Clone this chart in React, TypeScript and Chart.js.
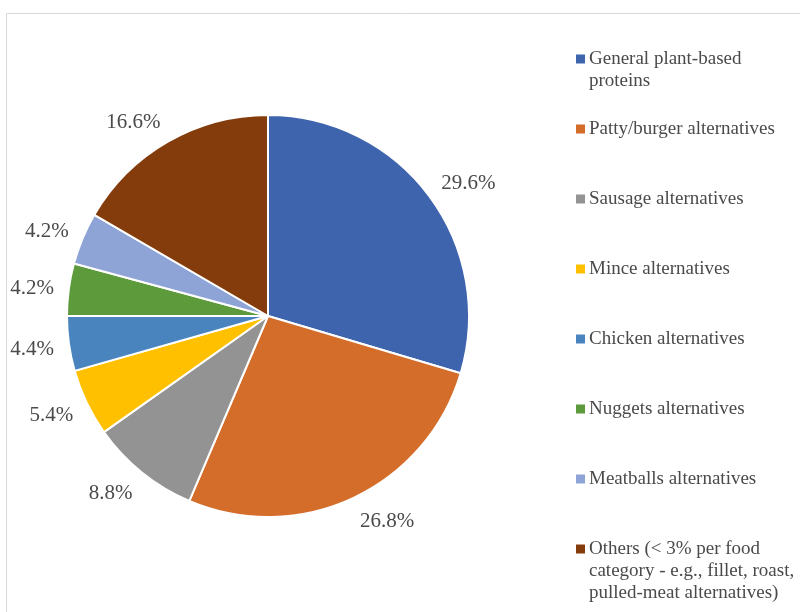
import React, { useEffect, useRef } from "react";
import { Chart, registerables } from "chart.js";

Chart.register(...registerables);

const categories = [
  "General plant-based proteins",
  "Patty/burger alternatives",
  "Sausage alternatives",
  "Mince alternatives",
  "Chicken alternatives",
  "Nuggets alternatives",
  "Meatballs alternatives",
  "Others (< 3% per food category - e.g., fillet, roast, pulled-meat alternatives)",
];

const legendLines = [
  ["General plant-based", "proteins"],
  ["Patty/burger alternatives"],
  ["Sausage alternatives"],
  ["Mince alternatives"],
  ["Chicken alternatives"],
  ["Nuggets alternatives"],
  ["Meatballs alternatives"],
  ["Others (< 3% per food", "category - e.g., fillet, roast,", "pulled-meat alternatives)"],
];

const values = [29.6, 26.8, 8.8, 5.4, 4.4, 4.2, 4.2, 16.6];

const colors = [
  "#3F64AE",
  "#D46C2A",
  "#939393",
  "#FFC000",
  "#4A84BE",
  "#5C9A3C",
  "#8EA4D6",
  "#843C0C",
];

const TEXT_COLOR = "#4a4a4a";
const FONT = "'Liberation Serif', 'Times New Roman', serif";

const labelsPlugin = {
  id: "outsideLabels",
  afterDatasetsDraw(chart: any) {
    const ctx = chart.ctx;
    const meta = chart.getDatasetMeta(0);
    ctx.save();
    ctx.font = `21px ${FONT}`;
    ctx.fillStyle = TEXT_COLOR;
    ctx.textAlign = "center";
    ctx.textBaseline = "middle";
    meta.data.forEach((arc: any, i: number) => {
      const mid = (arc.startAngle + arc.endAngle) / 2;
      const dx = Math.cos(mid);
      const dy = Math.sin(mid);
      const text = values[i].toFixed(1) + "%";
      const w = ctx.measureText(text).width;
      const h = 20;
      const R = arc.outerRadius + 15;
      const sx = Math.max(-1, Math.min(1, dx * 3));
      const x = arc.x + dx * R + sx * (w / 2);
      const y = arc.y + dy * R + dy * (h / 2) * 0.9 + 2;
      ctx.fillText(text, x, y);
    });
    ctx.restore();
  },
};

const legendPlugin = {
  id: "customLegend",
  afterDraw(chart: any) {
    const ctx = chart.ctx;
    ctx.save();
    // frame
    ctx.strokeStyle = "#D9D9D9";
    ctx.lineWidth = 1;
    ctx.beginPath();
    ctx.moveTo(6.5, 612);
    ctx.lineTo(6.5, 13.5);
    ctx.lineTo(800, 13.5);
    ctx.stroke();

    ctx.font = `19px ${FONT}`;
    ctx.textAlign = "left";
    ctx.textBaseline = "middle";
    const x0 = 576;
    const y0 = 59;
    const step = 70;
    const lineH = 22;
    legendLines.forEach((lines, i) => {
      const y = y0 + i * step;
      ctx.fillStyle = colors[i];
      ctx.fillRect(x0, y - 4.5, 9, 9);
      ctx.fillStyle = TEXT_COLOR;
      lines.forEach((ln, j) => {
        ctx.fillText(ln, x0 + 13, y + j * lineH);
      });
    });
    ctx.restore();
  },
};

export default function App() {
  const ref = useRef<HTMLCanvasElement | null>(null);
  useEffect(() => {
    if (!ref.current) return;
    const chart = new Chart(ref.current, {
      type: "pie",
      data: {
        labels: categories,
        datasets: [
          {
            data: values,
            backgroundColor: colors,
            borderColor: "#ffffff",
            borderWidth: 2,
          },
        ],
      },
      options: {
        responsive: true,
        maintainAspectRatio: false,
        animation: false,
        layout: { padding: { left: 66, top: 114, right: 330, bottom: 94 } },
        plugins: {
          legend: { display: false },
          tooltip: { enabled: false },
        },
      },
      plugins: [labelsPlugin, legendPlugin],
    });
    return () => chart.destroy();
  }, []);
  return (
    <div style={{ position: "absolute", left: 0, top: 0, width: 800, height: 612, background: "#fff" }}>
      <canvas ref={ref} />
    </div>
  );
}
